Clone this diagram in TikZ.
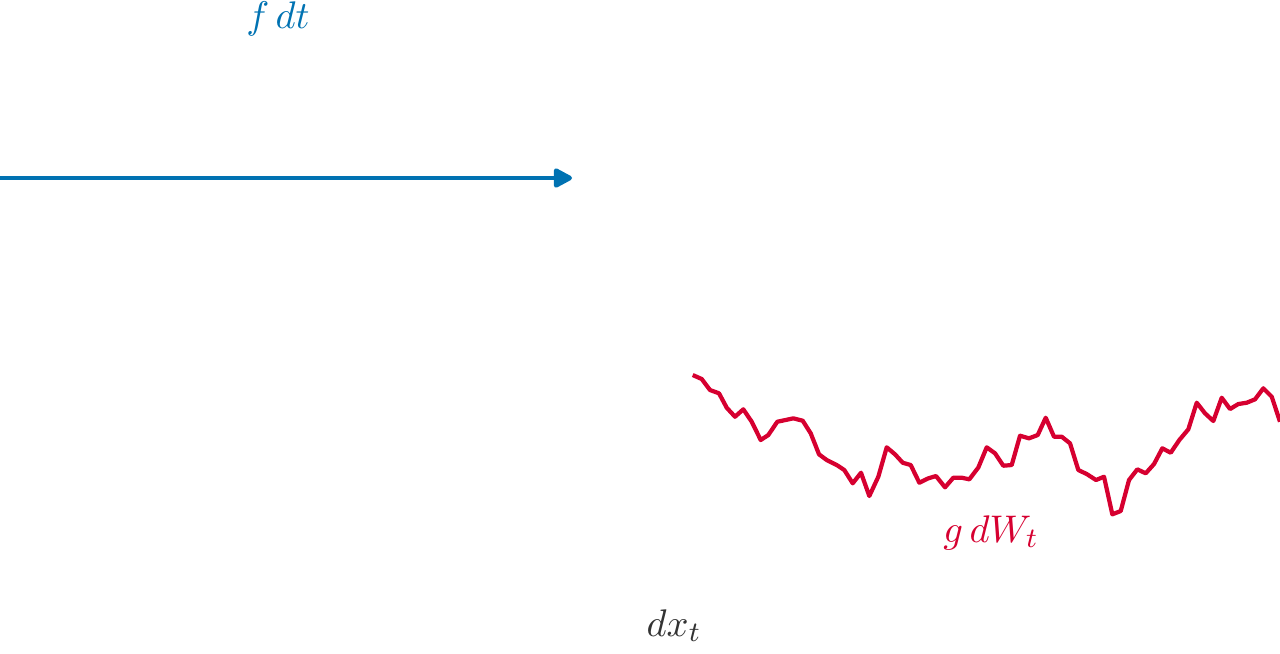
\documentclass[tikz,border=0pt]{standalone}
\usepackage{tikz}
\usetikzlibrary{arrows.meta}

\definecolor{driftblue}{RGB}{0,114,178}
\definecolor{noisered}{RGB}{214,0,48}
\definecolor{sumgray}{RGB}{51,51,51}

\begin{document}
\begin{tikzpicture}[x=0.01cm,y=-0.01cm,
  lbl/.style={anchor=base,inner sep=0pt,font=\fontsize{10.95}{13}\selectfont}]
\useasboundingbox (0,0) rectangle (1280,653);

\coordinate (driftstart) at (0,178);
\coordinate (drifttip) at (572,178);
\node[lbl,text=driftblue] at (278,28) (fdt){$f\,dt$};
\node[lbl,text=noisered] at (991,542) (gdw){$g\,dW_t$};
\node[lbl,text=sumgray] at (674,636) (dxt){$dx_t$};

\draw[-{Triangle[length=2.1mm,width=2.1mm,round]},driftblue,line width=1.3pt]
  (driftstart) -- (drifttip);

\draw[noisered,line width=1.2pt,line join=round] plot coordinates {
  (692.7,375) (701.7,379) (710,390) (719,393.3) (726.7,407.7) (735,416.7)
  (743.3,409.3) (751.7,421.7) (760.7,440) (768.3,435) (777.3,421.7) (785.5,420)
  (793.3,418.3) (802.7,420.7) (810.7,433.3) (819,454.3) (826.7,460) (836.7,465)
  (844.3,470) (852.7,483.3) (861,472.7) (869.3,496) (878.3,476.7) (886.7,447.3)
  (895,454.3) (902.7,462.7) (910.7,465) (919.3,482.7) (928.3,478.3) (936,476)
  (945,487.3) (953.3,477.7) (961.7,477.7) (969.3,479.3) (978.3,467.5) (986.7,447.3)
  (995,453.3) (1003.3,465.7) (1011.7,465) (1020,435.7) (1029,438.3) (1037.7,435)
  (1045.7,417.7) (1054,436.7) (1061.7,436.7) (1070,443.3) (1078.3,470) (1086.7,474)
  (1096,480) (1104,476.7) (1112.3,514.3) (1120.7,511) (1129,480) (1137.3,469.3)
  (1145.7,473.3) (1154,464) (1162.3,448.3) (1170.7,452.7) (1179.3,440) (1188.3,429.3)
  (1196.7,402.7) (1205,413.3) (1213.3,421) (1221.7,397.7) (1230,409) (1238.3,404)
  (1246.7,402.7) (1255,399.3) (1263.3,388.3) (1271.7,396.7) (1280,421.7)};

\end{tikzpicture}
\end{document}
